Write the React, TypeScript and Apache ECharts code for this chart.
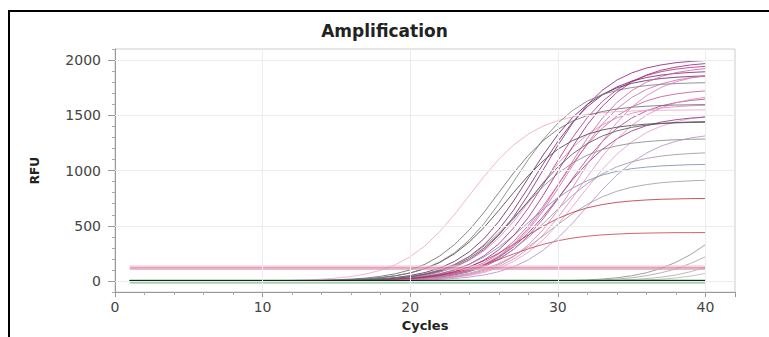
import React, { useEffect, useRef } from "react";
import * as echarts from "echarts";

const cycles = [1,2,3,4,5,6,7,8,9,10,11,12,13,14,15,16,17,18,19,20,21,22,23,24,25,26,27,28,29,30,31,32,33,34,35,36,37,38,39,40];

const xTickValues = [0, 10, 20, 30, 40];
const yTickValues = [0, 500, 1000, 1500, 2000];

// amplification curves (RFU per cycle 1..40)
const curve01 = [0,0,0,0,0,0,0,0,0,0,0,0,0,2,4,6,9,14,22,34,53,83,127,192,285,414,581,782,1005,1228,1429,1596,1725,1819,1883,1928,1956,1976,1988,1996];
const curve02 = [0,0,0,0,0,0,0,0,0,0,0,0,0,0,2,4,7,11,17,27,42,65,100,152,229,336,480,661,870,1090,1299,1480,1624,1731,1808,1860,1895,1918,1933,1943];
const curve03 = [0,0,0,0,0,0,0,0,0,0,0,0,0,2,4,7,11,17,26,41,63,97,148,222,327,467,642,846,1059,1263,1438,1578,1683,1757,1808,1842,1864,1879,1888,1894];
const curve04 = [0,0,0,0,0,0,0,0,0,0,0,0,0,0,0,2,4,7,11,17,26,40,62,96,146,219,322,461,634,835,1045,1246,1419,1558,1661,1734,1784,1818,1840,1854];
const curve05 = [0,0,0,0,0,0,0,0,0,0,0,0,2,3,5,8,13,21,32,50,77,117,178,265,384,539,725,933,1140,1326,1481,1600,1688,1748,1789,1815,1833,1844,1852,1857];
const curve06 = [0,0,0,0,0,0,0,0,0,0,0,0,0,0,2,3,5,8,12,19,30,46,72,110,166,247,358,503,677,870,1063,1237,1382,1493,1575,1630,1669,1693,1710,1721];
const curve07 = [0,0,0,0,0,0,0,0,0,0,0,0,0,0,0,2,4,6,9,15,23,36,55,85,130,195,286,409,563,741,929,1107,1261,1384,1475,1540,1585,1615,1634,1647];
const curve08 = [0,0,0,0,0,0,0,0,0,0,0,0,0,2,3,6,9,14,22,34,53,82,124,187,274,392,539,710,890,1061,1208,1326,1413,1476,1518,1547,1566,1578,1586,1591];
const curve09 = [0,0,0,0,0,0,0,0,0,0,0,0,0,0,0,0,2,3,5,9,13,21,33,50,78,118,177,261,372,512,675,845,1008,1148,1259,1343,1402,1442,1470,1487];
const curve10 = [0,0,0,0,0,0,0,0,0,0,0,0,0,0,2,3,4,7,11,17,26,40,62,95,143,213,309,434,584,750,917,1067,1191,1287,1358,1406,1439,1460,1475,1484];
const curve11 = [0,0,0,0,0,0,0,0,0,0,0,2,3,5,8,13,20,31,48,73,112,168,247,353,485,639,801,955,1087,1193,1272,1328,1367,1392,1409,1420,1427,1432,1435,1437];
const curve12 = [0,0,0,0,0,0,0,0,0,0,0,0,2,3,5,7,11,18,28,43,66,100,150,221,316,435,573,717,855,974,1069,1140,1190,1224,1247,1262,1272,1279,1283,1285];
const curve13 = [0,0,0,0,0,0,0,0,0,0,0,0,0,0,1,2,4,7,10,16,25,39,60,91,136,201,287,394,519,651,776,883,969,1034,1079,1110,1131,1145,1154,1160];
const curve14 = [0,0,0,0,0,0,0,0,0,0,0,0,1,2,3,5,7,12,18,28,44,67,101,151,218,306,412,530,648,754,842,909,959,993,1017,1031,1042,1048,1053,1055];
const curve15 = [0,0,0,0,0,0,0,0,0,0,0,0,0,0,1,2,3,5,8,13,20,30,47,71,107,158,225,310,408,512,610,695,762,813,849,873,890,900,907,912];
const curve16 = [0,0,0,0,0,0,0,0,0,0,0,0,1,2,3,4,7,10,16,25,38,58,87,129,184,253,333,417,497,566,621,663,692,712,725,734,740,743,746,747];
const curve17 = [0,0,0,0,0,0,0,0,0,0,0,0,1,1,2,4,6,9,15,22,34,51,75,108,148,195,245,292,332,365,389,406,418,425,431,434,436,438,438,439];
const curve18 = [0,0,0,0,0,0,0,0,2,3,4,7,11,17,27,41,64,98,148,220,319,448,603,775,947,1102,1231,1330,1403,1452,1486,1508,1524,1533,1539,1543,1545,1547,1548,1549];
const curve19 = [0,0,0,0,0,0,0,0,0,0,0,2,3,5,8,13,20,31,48,74,113,172,256,371,520,700,900,1100,1280,1429,1544,1629,1687,1726,1751,1769,1780,1787,1792,1795];
const curve20 = [0,0,0,0,0,0,0,0,0,0,0,0,0,0,0,2,4,7,11,17,27,42,65,99,151,227,334,478,657,866,1084,1293,1472,1616,1723,1799,1851,1886,1908,1923];
const curve21 = [0,0,0,0,0,0,0,0,0,0,0,0,0,0,0,0,2,4,6,10,15,23,36,56,87,132,198,292,417,573,755,945,1127,1284,1408,1502,1568,1613,1644,1664];
const curve22 = [0,0,0,0,0,0,0,0,0,0,2,3,4,7,11,18,27,43,66,101,152,227,330,462,622,800,978,1138,1270,1373,1448,1499,1534,1557,1573,1582,1589,1593,1595,1597];
const curve23 = [0,0,0,0,0,0,0,0,0,0,0,0,0,0,0,0,1,2,4,6,9,15,23,36,55,85,129,192,278,390,525,675,825,960,1072,1158,1222,1265,1295,1314];
const curve24 = [0,0,0,0,0,0,0,0,0,0,0,0,0,0,2,4,6,9,14,22,34,53,82,125,190,283,410,575,774,995,1216,1415,1580,1707,1801,1865,1908,1936,1956,1968];
const curve25 = [0,0,0,0,0,0,0,0,0,0,0,0,0,0,0,0,2,4,7,11,17,26,41,63,97,147,222,326,466,640,844,1056,1260,1435,1574,1678,1753,1803,1837,1859];
const curve26 = [0,0,0,0,0,0,0,0,0,0,0,0,2,3,4,7,10,16,25,39,60,91,138,206,299,419,564,725,886,1031,1151,1244,1312,1359,1391,1411,1425,1434,1440,1443];
const curve27 = [0,0,0,0,0,0,0,0,0,0,0,0,0,0,0,0,0,0,0,0,0,0,0,0,0,0,0,0,0,0,5,10,18,30,48,75,115,170,240,330];
const curve28 = [0,0,0,0,0,0,0,0,0,0,0,0,0,0,0,0,0,0,0,0,0,0,0,0,0,0,0,0,0,0,0,5,10,18,30,48,75,110,160,220];
const curve29 = [0,0,0,0,0,0,0,0,0,0,0,0,0,0,0,0,0,0,0,0,0,0,0,0,0,0,0,0,0,0,0,0,4,8,14,22,35,55,85,125];
const curve30 = [0,0,0,0,0,0,0,0,0,0,0,0,0,0,0,0,0,0,0,0,0,0,0,0,0,0,0,0,0,0,0,0,0,3,6,10,17,28,45,70];

// flat (non-amplifying) wells
const flatPinkA = [120,120,120,120,120,120,120,120,120,120,120,120,120,120,120,120,120,120,120,120,120,120,120,120,120,120,120,120,120,120,120,120,120,120,120,120,120,120,120,120];
const flatPinkB = [108,108,108,108,108,108,108,108,108,108,108,108,108,108,108,108,108,108,108,108,108,108,108,108,108,108,108,108,108,108,108,108,108,108,108,108,108,108,108,108];
const flatPinkC = [135,135,135,135,135,135,135,135,135,135,135,135,135,135,135,135,135,135,135,135,135,135,135,135,135,135,135,135,135,135,135,135,135,135,135,135,135,135,135,135];
const baseLight = [-18,-18,-18,-18,-18,-18,-18,-18,-18,-18,-18,-18,-18,-18,-18,-18,-18,-18,-18,-18,-18,-18,-18,-18,-18,-18,-18,-18,-18,-18,-18,-18,-18,-18,-18,-18,-18,-18,-18,-18];
const baseGreen = [6,6,6,6,6,6,6,6,6,6,6,6,6,6,6,6,6,6,6,6,6,6,6,6,6,6,6,6,6,6,6,6,6,6,6,6,6,6,6,6];
const baseDarkA = [2,2,2,2,2,2,2,2,2,2,2,2,2,2,2,2,2,2,2,2,2,2,2,2,2,2,2,2,2,2,2,2,2,2,2,2,2,2,2,2];
const baseDarkB = [-4,-4,-4,-4,-4,-4,-4,-4,-4,-4,-4,-4,-4,-4,-4,-4,-4,-4,-4,-4,-4,-4,-4,-4,-4,-4,-4,-4,-4,-4,-4,-4,-4,-4,-4,-4,-4,-4,-4,-4];
const baseBlack = [0,0,0,0,0,0,0,0,0,0,0,0,0,0,0,0,0,0,0,0,0,0,0,0,0,0,0,0,0,0,0,0,0,0,0,0,0,0,0,0];

const ampCurves = [curve01,curve02,curve03,curve04,curve05,curve06,curve07,curve08,curve09,curve10,curve11,curve12,curve13,curve14,curve15,curve16,curve17,curve18,curve19,curve20,curve21,curve22,curve23,curve24,curve25,curve26,curve27,curve28,curve29,curve30];
const ampColors = ["#8b2a80","#b03a8c","#7a2a70","#d070b0","#6a2a6a","#c85aa0","#b04890","#e08ac0","#e8a0cc","#9a3a8a","#4a4a4a","#8a8a8a","#9a9aa8","#8090b0","#a0a0a0","#c03848","#c84858","#f0a8c8","#808080","#d068a8","#e090c0","#707070","#b890c8","#a02880","#d880b8","#5a5a5a","#909090","#a8a8a8","#b0b0b0","#b8b8b8"];
const flatCurves = [flatPinkC, flatPinkA, flatPinkB, baseLight, baseGreen, baseDarkA, baseDarkB, baseBlack];
const flatColors = ["#f0c0d0","#d87aa0","#e0a0b8","#9fdcae","#2a6a3a","#1d3a28","#2f4f3a","#0f1f15"];

const FONT = "DejaVu Sans";

export default function App() {
  const ref = useRef<HTMLDivElement>(null);
  useEffect(() => {
    if (!ref.current) return;
    const chart = echarts.init(ref.current, null, { renderer: "svg" });
    const mk = (vals: number[], color: string, width: number, opacity: number) => ({
      type: "line",
      xAxisIndex: 0,
      yAxisIndex: 0,
      data: cycles.map((c, i) => [c, vals[i]]),
      showSymbol: false,
      symbol: "none",
      silent: true,
      lineStyle: { color, width, opacity },
    });
    const series: any[] = [];
    series.push({
      type: "line",
      data: [],
      silent: true,
      markLine: {
        silent: true,
        symbol: "none",
        label: { show: false },
        lineStyle: { color: "#ececec", width: 1, type: "solid" },
        data: [
          ...yTickValues.map((v) => ({ yAxis: v })),
          ...xTickValues.filter((v) => v > 0).map((v) => ({ xAxis: v })),
        ],
      },
    });
    ampCurves.forEach((c, i) => series.push(mk(c, ampColors[i], 1, 0.85)));
    flatCurves.forEach((c, i) => series.push(mk(c, flatColors[i], i >= 5 ? 1.6 : 1.2, 0.95)));

    chart.setOption({
      animation: false,
      title: {
        text: "Amplification",
        left: "center",
        top: 17,
        textStyle: { fontFamily: FONT, fontWeight: "bold", fontSize: 17, color: "#222" },
      },
      graphic: [
        {
          type: "rect",
          shape: { x: 9, y: 11, width: 900, height: 500 },
          style: { fill: "none", stroke: "#000", lineWidth: 2 },
          silent: true,
        },
      ],
      grid: {
        left: 115,
        right: 34,
        top: 49,
        bottom: 40,
        show: true,
        borderColor: "#cccccc",
        borderWidth: 1,
      },
      xAxis: {
        type: "value",
        min: 0,
        max: 42,
        interval: 10,
        name: "Cycles",
        nameLocation: "middle",
        nameGap: 24,
        nameTextStyle: { fontFamily: FONT, fontWeight: "bold", fontSize: 13, color: "#222" },
        axisLine: { show: true, onZero: false, lineStyle: { color: "#999" } },
        axisTick: { show: true, length: 5, lineStyle: { color: "#999" } },
        minorTick: { show: true, splitNumber: 5, length: 3, lineStyle: { color: "#aaa" } },
        splitLine: { show: false },
        axisLabel: {
          margin: 8,
          fontFamily: FONT,
          fontSize: 14,
          color: "#444",
          formatter: (v: number) => (xTickValues.includes(v) ? String(v) : ""),
        },
      },
      yAxis: [
        {
          type: "value",
          min: -100,
          max: 2100,
          interval: 100,
          name: "RFU",
          nameLocation: "middle",
          nameGap: 74,
          nameRotate: 90,
          nameTextStyle: { fontFamily: FONT, fontWeight: "bold", fontSize: 12, color: "#222" },
          axisLine: { show: true, onZero: false, lineStyle: { color: "#999" } },
          axisTick: { show: true, length: 3, lineStyle: { color: "#aaa" } },
          splitLine: { show: false },
          axisLabel: {
            margin: 14,
            fontFamily: FONT,
            fontSize: 14,
            color: "#444",
            formatter: (v: number) => (yTickValues.includes(v) ? String(v) : ""),
          },
        },
        {
          type: "value",
          min: -100,
          max: 2100,
          position: "left",
          axisLine: { show: false, onZero: false },
          axisTick: { show: true, length: 7, customValues: yTickValues, lineStyle: { color: "#999" } },
          axisLabel: { show: false },
          splitLine: { show: false },
        },
      ],
      series,
    });
    return () => chart.dispose();
  }, []);
  return (
    <div
      ref={ref}
      style={{ position: "fixed", left: 0, top: 0, width: 769, height: 337, background: "#fff" }}
    />
  );
}
